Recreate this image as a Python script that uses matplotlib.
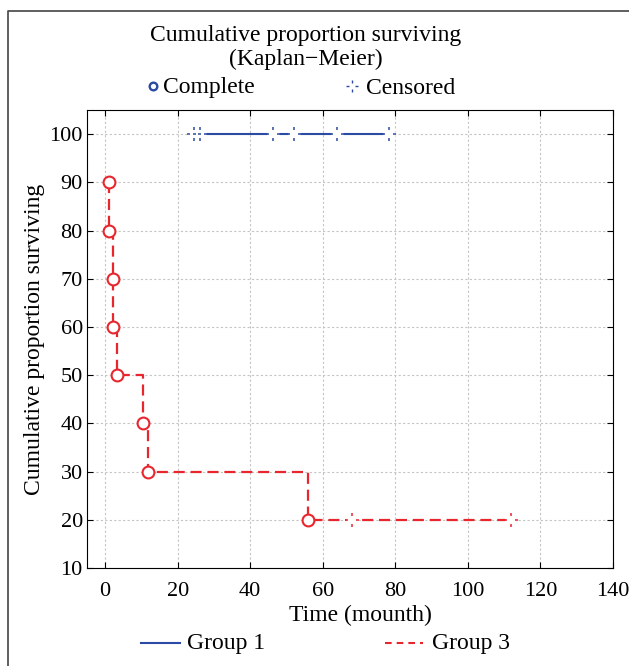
import numpy as np
import matplotlib.pyplot as plt
from matplotlib.lines import Line2D
from matplotlib.path import Path

# Group 1: all censored, survival stays at 100
g1_time = [24.5, 26.2, 46.4, 52.0, 64.0, 78.3]
g1_surv = [100, 100, 100, 100, 100, 100]

# Group 3: complete events then censored cases
g3_event_time = [1.1, 1.1, 2.2, 2.2, 3.3, 10.4, 11.9, 56.0]
g3_event_surv = [90, 80, 70, 60, 50, 40, 30, 20]
g3_cens_time = [68.0, 112.0]
g3_cens_surv = [20, 20]

x_ticks = [0, 20, 40, 60, 80, 100, 120, 140]
y_ticks = [10, 20, 30, 40, 50, 60, 70, 80, 90, 100]

BLUE = "#2b4aa3"
RED = "#e8262e"
FS = 17

plt.rcParams["font.family"] = ["Liberation Serif", "DejaVu Serif"]
plt.rcParams["font.size"] = FS

# censored marker: a plus with only the tips drawn
CENS = Path(
    [(0, 0.6), (0, 1), (0, -0.6), (0, -1), (-1, 0), (-0.6, 0), (0.6, 0), (1, 0)],
    [Path.MOVETO, Path.LINETO] * 4,
)


def draw_censored(ax, xs, ys, color):
    # white square first so the line looks broken around the mark
    ax.plot(xs, ys, ls="none", marker="s", ms=8, mfc="white", mec="none", zorder=4)
    ax.plot(xs, ys, ls="none", marker=CENS, ms=10, mec=color, mew=1.1, zorder=5)


fig = plt.figure(figsize=(6.29, 6.66), dpi=100)
ax = fig.add_axes([87 / 629, 1 - 568 / 666, (613 - 87) / 629, (568 - 110) / 666])

# Group 1 line
ax.plot(g1_time, g1_surv, color=BLUE, lw=1.5, zorder=3)
draw_censored(ax, g1_time, g1_surv, BLUE)

# Group 3 step line
g3_x = g3_event_time + g3_cens_time
g3_y = g3_event_surv + g3_cens_surv
ax.plot(g3_x, g3_y, color=RED, lw=1.6, ls=(0, (5, 2.6)), drawstyle="steps-post", zorder=3)
ax.plot(g3_event_time, g3_event_surv, ls="none", marker="o", ms=8.5, mfc="white",
        mec=RED, mew=1.5, zorder=5)
draw_censored(ax, g3_cens_time, g3_cens_surv, RED)

ax.set_xlim(-5, 140)
ax.set_ylim(10, 105)
ax.set_xticks(x_ticks)
ax.set_yticks(y_ticks)
ax.grid(True, color="#c4c4c4", ls=(0, (2, 2)), lw=0.8)
ax.tick_params(direction="in", length=4, top=True, right=True, labelsize=16)
ax.tick_params(axis="x", pad=10)
ax.tick_params(axis="y", pad=3)

ax.set_xlabel("Time (mounth)")
ax.xaxis.label.set_va("center")
ax.xaxis.set_label_coords((360 - 87) / 526, (568 - 615) / 458)
ax.set_ylabel("Cumulative proportion surviving")
ax.yaxis.label.set_va("center")
ax.yaxis.set_label_coords((35 - 87) / 526, 0.5)

# title and marker legend on top
fig.text(306 / 629, 1 - 35 / 666, "Cumulative proportion surviving", ha="center", va="center")
fig.text(306 / 629, 1 - 59 / 666, "(Kaplan\u2212Meier)", ha="center", va="center")
fig.add_artist(Line2D([153 / 629], [1 - 86 / 666], ls="none", marker="o", ms=5.5,
                      mfc="white", mec=BLUE, mew=1.7, transform=fig.transFigure))
fig.text(163 / 629, 1 - 88 / 666, "Complete", ha="left", va="center")
fig.add_artist(Line2D([352 / 629], [1 - 86 / 666], ls="none", marker=CENS, ms=8,
                      mec=BLUE, mew=1.0, transform=fig.transFigure))
fig.text(366 / 629, 1 - 88 / 666, "Censored", ha="left", va="center")

# group legend at the bottom
fig.add_artist(Line2D([141 / 629, 180 / 629], [1 - 643 / 666] * 2, color=BLUE, lw=1.5,
                      transform=fig.transFigure))
fig.text(187 / 629, 1 - 644 / 666, "Group 1", ha="left", va="center")
fig.add_artist(Line2D([385 / 629, 423 / 629], [1 - 643 / 666] * 2, color=RED, lw=1.5,
                      ls=(0, (3.2, 2.4)), transform=fig.transFigure))
fig.text(432 / 629, 1 - 644 / 666, "Group 3", ha="left", va="center")

# outer frame (only top and left edges are visible)
fig.add_artist(Line2D([8 / 629, 8 / 629, 1], [0, 1 - 11 / 666, 1 - 11 / 666],
                      color="#444444", lw=1.2, transform=fig.transFigure))

fig.savefig("out.png", dpi=100)
